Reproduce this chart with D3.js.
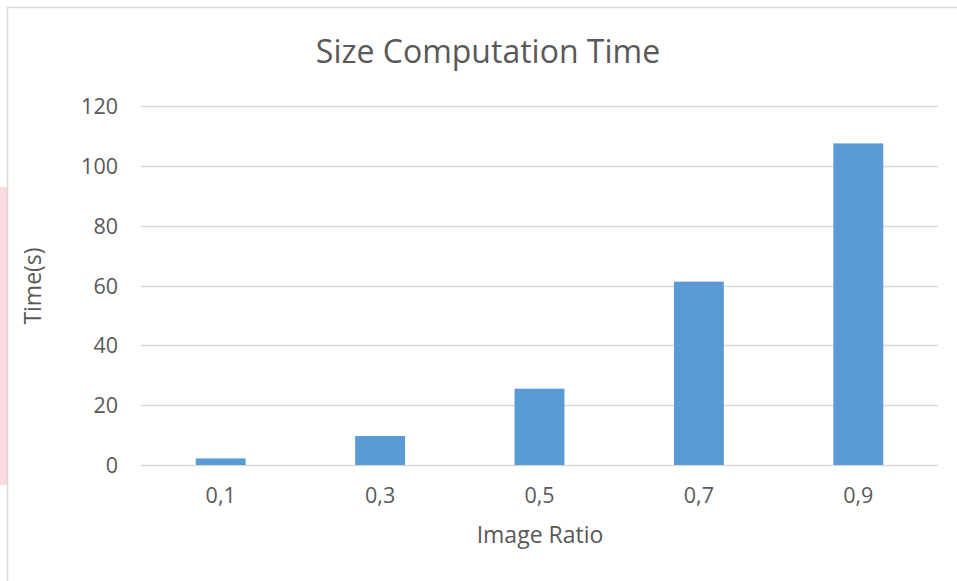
<!DOCTYPE html>
<html>
<head>
<meta charset="utf-8">
<script src="https://cdn.jsdelivr.net/npm/d3@7"></script>
<style>
  body { margin: 0; background: #fff; }
  text { font-family: "Open Sans", "Liberation Sans", sans-serif; fill: #595959; }
</style>
</head>
<body>
<svg id="chart" width="957" height="581"></svg>
<script>
const categories = ["0,1", "0,3", "0,5", "0,7", "0,9"];
const times = [2.2, 9.7, 25.5, 61.3, 107.5];
const yTicks = [0, 20, 40, 60, 80, 100, 120];

const width = 957;
const height = 581;
const MARGIN = { TOP: 106, RIGHT: 19, BOTTOM: 116, LEFT: 141 };

const svg = d3.select("#chart");

// page artefacts: pink strip at far left and the chart frame
svg.append("rect")
  .attr("x", 0).attr("y", 187).attr("width", 7).attr("height", 298)
  .attr("fill", "#fddadd");
svg.append("rect")
  .attr("x", 7.5).attr("y", 7.5).attr("width", width).attr("height", height)
  .attr("fill", "none").attr("stroke", "#d9d9d9").attr("stroke-width", 1.5);

const x = d3.scaleBand()
  .domain(categories)
  .range([MARGIN.LEFT, width - MARGIN.RIGHT])
  .paddingInner(0.687)
  .paddingOuter(0.3435);

const y = d3.scaleLinear()
  .domain([0, 120])
  .range([height - MARGIN.BOTTOM, MARGIN.TOP]);

// gridlines
svg.append("g")
  .selectAll("line")
  .data(yTicks)
  .join("line")
  .attr("x1", MARGIN.LEFT)
  .attr("x2", width - MARGIN.RIGHT)
  .attr("y1", (d) => Math.round(y(d)) + 0.5)
  .attr("y2", (d) => Math.round(y(d)) + 0.5)
  .attr("stroke", "#d9d9d9")
  .attr("stroke-width", 1.3);

// bars
svg.append("g")
  .selectAll("rect")
  .data(times)
  .join("rect")
  .attr("x", (d, i) => x(categories[i]))
  .attr("width", x.bandwidth())
  .attr("y", (d) => y(d))
  .attr("height", (d) => y(0) - y(d))
  .attr("fill", "#5b9bd5");

// y axis labels
const yAxis = svg.append("g")
  .attr("transform", `translate(${MARGIN.LEFT - 23},0)`)
  .attr("font-size", 21.5)
  .call(d3.axisLeft(y).tickValues(yTicks).tickSize(0).tickPadding(0));
yAxis.select(".domain").remove();
yAxis.attr("font-size", 21.5).attr("font-family", null);
yAxis.selectAll("text")
  .style("font-size", "21.5px")
  .attr("fill", "#595959")
  .attr("dy", "0.35em");

// x axis labels
const xAxis = svg.append("g")
  .attr("transform", `translate(0,${y(0)})`)
  .call(d3.axisBottom(x).tickSize(0).tickPadding(23));
xAxis.select(".domain").remove();
xAxis.attr("font-size", 21.5).attr("font-family", null);
xAxis.selectAll("text")
  .style("font-size", "21.5px")
  .attr("fill", "#595959");

// title
svg.append("text")
  .attr("x", 488)
  .attr("y", 63)
  .attr("text-anchor", "middle")
  .attr("font-size", 32)
  .text("Size Computation Time");

// axis titles
svg.append("text")
  .attr("x", 540)
  .attr("y", 543)
  .attr("text-anchor", "middle")
  .attr("font-size", 23)
  .text("Image Ratio");

svg.append("text")
  .attr("transform", "translate(41,286) rotate(-90)")
  .attr("text-anchor", "middle")
  .attr("font-size", 23)
  .text("Time(s)");
</script>
</body>
</html>
